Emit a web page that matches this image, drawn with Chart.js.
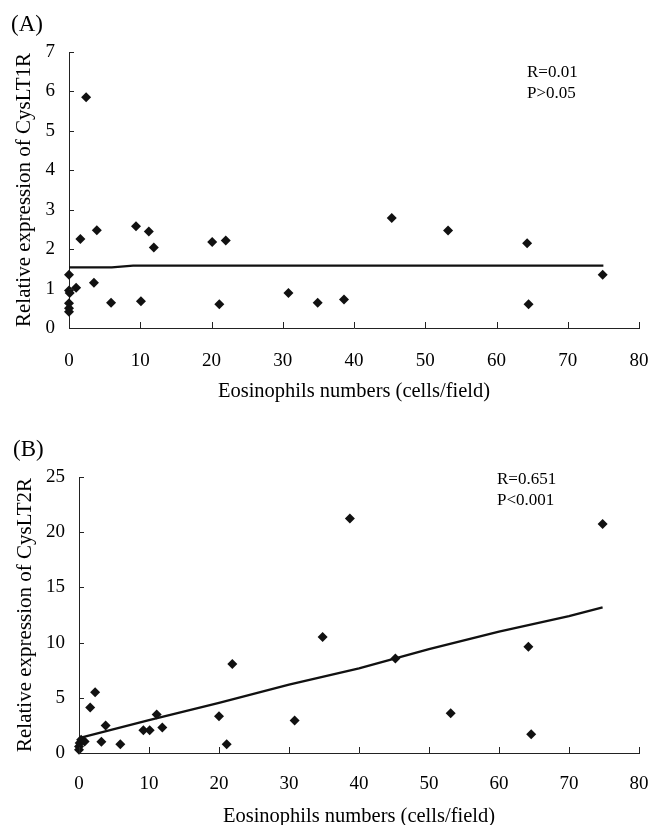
<!DOCTYPE html>
<html>
<head>
<meta charset="utf-8">
<script src="https://cdn.jsdelivr.net/npm/chart.js@4"></script>
<style>
  html, body { margin: 0; padding: 0; background: #fff; overflow: hidden; }
  #page { position: relative; width: 652px; height: 825px; font-family: 'Liberation Serif', 'Times New Roman', serif; color: #000; }
  .box { position: absolute; left: 0; width: 652px; }
  .label { position: absolute; font-size: 23px; line-height: 28px; }
  .note { position: absolute; font-size: 17px; line-height: 21px; }
</style>
</head>
<body>
<div id="page">
  <div class="box" style="top:0;height:410px"><canvas id="chartA"></canvas></div>
  <div class="box" style="top:410px;height:415px"><canvas id="chartB"></canvas></div>
  <div class="label" style="left:11px;top:10px">(A)</div>
  <div class="label" style="left:13px;top:435px">(B)</div>
  <div class="note" style="left:527px;top:61px">R=0.01<br>P&gt;0.05</div>
  <div class="note" style="left:497px;top:468px">R=0.651<br>P&lt;0.001</div>
</div>
<script>
// Panel A: eosinophils vs CysLT1R
const eosA = [2.4, 1.6, 3.9, 9.4, 11.2, 11.9, 20.1, 22.0, 0, 3.5, 1.0, 0, 0.1, 0, 0, 0, 5.9, 10.1, 21.1, 30.8, 34.9, 38.6, 45.3, 53.2, 64.3, 64.5, 74.9];
const cyslt1 = [5.85, 2.26, 2.48, 2.58, 2.45, 2.04, 2.18, 2.22, 1.35, 1.15, 1.02, 0.95, 0.89, 0.63, 0.5, 0.41, 0.64, 0.68, 0.6, 0.89, 0.64, 0.72, 2.79, 2.47, 2.15, 0.6, 1.35];
const trendAx = [0, 6, 9, 75];
const trendAy = [1.54, 1.54, 1.58, 1.58];

// Panel B: eosinophils vs CysLT2R
const eosB = [0, 0, 0.1, 0.3, 0.8, 1.6, 2.3, 3.2, 3.8, 5.9, 9.2, 10.1, 11.1, 11.9, 20.0, 21.1, 21.9, 30.8, 34.8, 38.7, 45.2, 53.1, 64.2, 64.6, 74.8];
const cyslt2 = [0.3, 0.6, 0.9, 1.2, 1.05, 4.12, 5.5, 1.03, 2.49, 0.79, 2.06, 2.06, 3.48, 2.3, 3.33, 0.79, 8.06, 2.94, 10.51, 21.25, 8.57, 3.6, 9.63, 1.7, 20.74];
const trendBx = [0, 10, 20, 30, 40, 50, 60, 70, 74.8];
const trendBy = [1.35, 2.97, 4.54, 6.2, 7.66, 9.4, 11.0, 12.4, 13.2];

const xTitle = 'Eosinophils numbers (cells/field)';

Chart.defaults.font.family = "'Liberation Serif', 'Times New Roman', serif";
Chart.defaults.font.size = 18;
Chart.defaults.color = '#000';

function toPoints(xs, ys) {
  return xs.map((x, i) => ({ x: x, y: ys[i] }));
}

// small tick marks pointing into the plot, like the original
const innerTicks = {
  id: 'innerTicks',
  afterDatasetsDraw(chart) {
    const { ctx, chartArea, scales } = chart;
    ctx.save();
    ctx.strokeStyle = '#222';
    ctx.lineWidth = 1;
    ctx.beginPath();
    scales.x.ticks.forEach(t => {
      const px = Math.round(scales.x.getPixelForValue(t.value)) + 0.5;
      ctx.moveTo(px, chartArea.bottom);
      ctx.lineTo(px, chartArea.bottom - 6);
    });
    scales.y.ticks.forEach(t => {
      const py = Math.round(scales.y.getPixelForValue(t.value)) + 0.5;
      ctx.moveTo(chartArea.left, py);
      ctx.lineTo(chartArea.left + 5, py);
    });
    ctx.stroke();
    ctx.restore();
  }
};

function createScatter(id, pts, line, yMax, yStep, yTitle, opts) {
  const ctx = document.getElementById(id).getContext('2d');
  return new Chart(ctx, {
    type: 'scatter',
    data: {
      datasets: [{
        data: pts,
        pointStyle: 'rectRot',
        pointRadius: 5,
        backgroundColor: '#111',
        borderColor: '#111',
        borderWidth: 0,
        clip: false
      }, {
        type: 'line',
        data: line,
        borderColor: '#111',
        borderWidth: 2.3,
        pointRadius: 0,
        tension: 0,
        fill: false,
        clip: false
      }]
    },
    options: {
      responsive: true,
      maintainAspectRatio: false,
      animation: false,
      layout: { padding: { top: opts.top, right: 13, left: 0, bottom: 0 } },
      plugins: { legend: { display: false }, tooltip: { enabled: false } },
      scales: {
        x: {
          type: 'linear',
          min: 0,
          max: 80,
          // the label gap comes from an invisible tick length, so the
          // tick padding does not widen the right margin
          ticks: { stepSize: 10, padding: 3, font: { size: 19 } },
          grid: { display: true, drawOnChartArea: false, drawTicks: true, tickLength: opts.xGap, tickColor: 'rgba(0,0,0,0)' },
          border: { display: true, color: '#222', width: 1 },
          title: { display: true, text: xTitle, font: { size: 20.5 }, padding: { top: 0, bottom: opts.xTitlePad } },
          afterFit: s => { s.height = opts.xHeight; }
        },
        y: {
          min: 0,
          max: yMax,
          ticks: { stepSize: yStep, padding: 14, font: { size: 19 } },
          grid: { display: false, drawTicks: false },
          border: { display: true, color: '#222', width: 1 },
          title: { display: true, text: yTitle, font: { size: 21 }, padding: { top: opts.yTitlePad, bottom: 0 } },
          afterFit: s => { s.width = opts.yWidth; }
        }
      }
    },
    plugins: [innerTicks]
  });
}

createScatter('chartA', toPoints(eosA, cyslt1), toPoints(trendAx, trendAy), 7, 1,
  'Relative expression of CysLT1R',
  { top: 52, xHeight: 82, yWidth: 69, xGap: 19, xTitlePad: 6, yTitlePad: 12 });

createScatter('chartB', toPoints(eosB, cyslt2), toPoints(trendBx, trendBy), 25, 5,
  'Relative expression of CysLT2R',
  { top: 67, xHeight: 72, yWidth: 79, xGap: 17, xTitlePad: -4, yTitlePad: 13 });
</script>
</body>
</html>
